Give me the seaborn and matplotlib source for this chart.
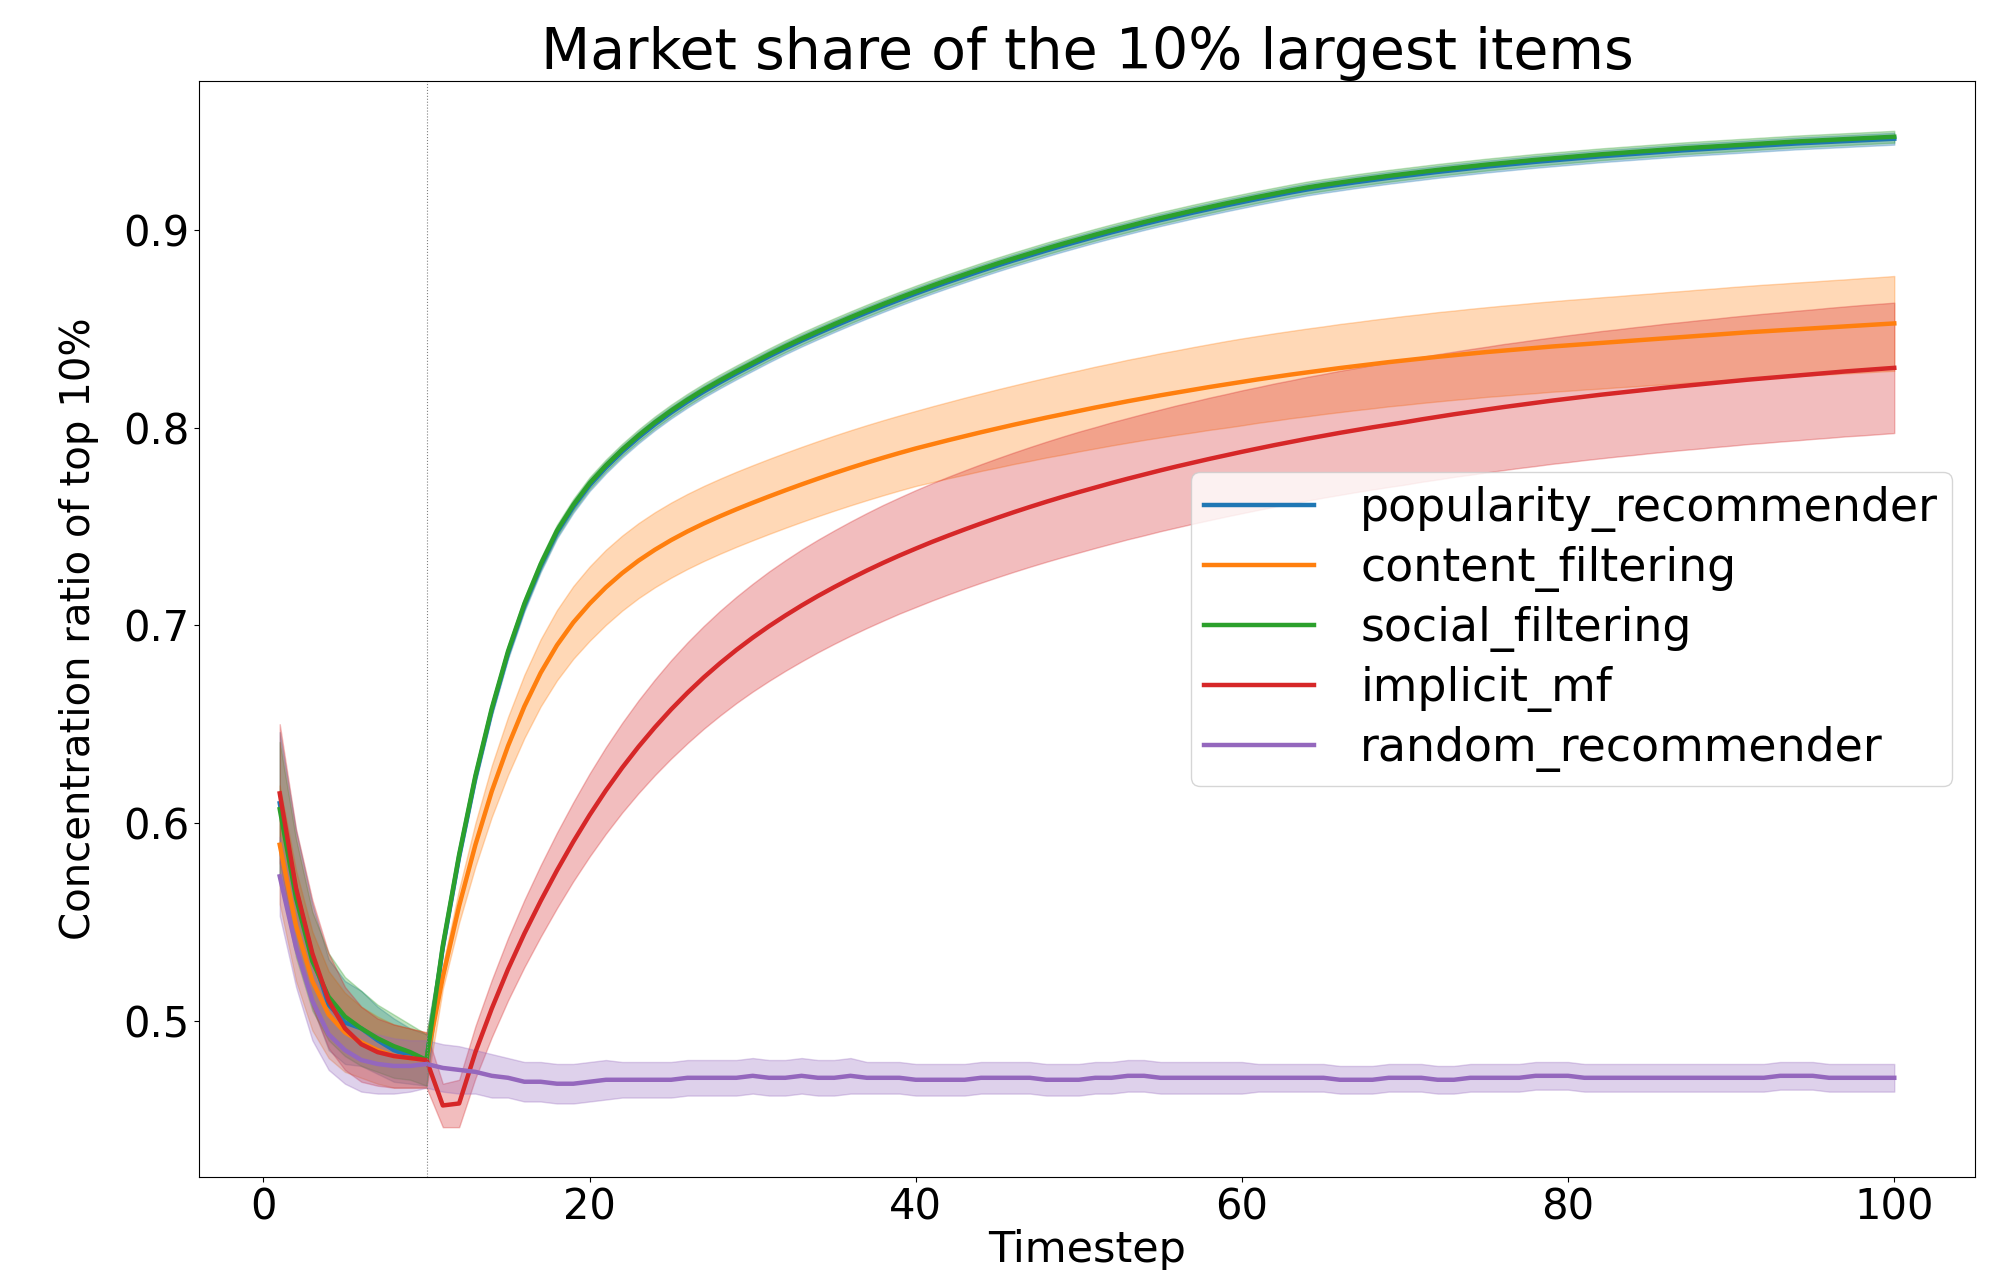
import pandas as pd
import matplotlib
matplotlib.use("Agg")
import matplotlib.pyplot as plt
import seaborn as sns

plt.rcParams["font.family"] = ["DejaVu Sans"]

timesteps = list(range(1, 101))

recommenders = [
    "popularity_recommender",
    "content_filtering",
    "social_filtering",
    "implicit_mf",
    "random_recommender",
]

# mean concentration ratio per timestep
popularity_mean = [
    0.610, 0.566, 0.533, 0.508, 0.499, 0.496, 0.490, 0.485, 0.482, 0.480,
    0.537, 0.583, 0.623, 0.657, 0.686, 0.710, 0.730, 0.747, 0.760, 0.771,
    0.7800, 0.7880, 0.7952, 0.8018, 0.8078, 0.8133, 0.8184, 0.8231, 0.8276, 0.8319,
    0.8362, 0.8403, 0.8442, 0.8479, 0.8515, 0.8550, 0.8584, 0.8617, 0.8649, 0.8680,
    0.8710, 0.8739, 0.8767, 0.8795, 0.8822, 0.8848, 0.8873, 0.8898, 0.8922, 0.8945,
    0.8968, 0.8990, 0.9011, 0.9032, 0.9052, 0.9071, 0.9090, 0.9108, 0.9126, 0.9143,
    0.9160, 0.9176, 0.9192, 0.9207, 0.9220, 0.9232, 0.9244, 0.9255, 0.9266, 0.9276,
    0.9286, 0.9296, 0.9305, 0.9314, 0.9323, 0.9331, 0.9339, 0.9347, 0.9354, 0.9361,
    0.9368, 0.9375, 0.9381, 0.9387, 0.9393, 0.9399, 0.9405, 0.9410, 0.9415, 0.9420,
    0.9425, 0.9430, 0.9435, 0.9440, 0.9444, 0.9448, 0.9452, 0.9456, 0.9460, 0.9464,
]
content_mean = [
    0.589, 0.548, 0.520, 0.503, 0.494, 0.489, 0.485, 0.482, 0.481, 0.480,
    0.522, 0.558, 0.589, 0.616, 0.639, 0.659, 0.676, 0.690, 0.7015, 0.7110,
    0.7193, 0.7265, 0.7328, 0.7383, 0.7432, 0.7476, 0.7516, 0.7553, 0.7588, 0.7621,
    0.7653, 0.7684, 0.7714, 0.7743, 0.7771, 0.7798, 0.7824, 0.7849, 0.7873, 0.7896,
    0.7917, 0.7938, 0.7958, 0.7978, 0.7997, 0.8016, 0.8034, 0.8052, 0.8069, 0.8086,
    0.8103, 0.8119, 0.8135, 0.8150, 0.8165, 0.8179, 0.8193, 0.8207, 0.8220, 0.8233,
    0.8246, 0.8258, 0.8270, 0.8281, 0.8292, 0.8303, 0.8313, 0.8323, 0.8333, 0.8342,
    0.8351, 0.8360, 0.8368, 0.8376, 0.8384, 0.8391, 0.8398, 0.8405, 0.8412, 0.8418,
    0.8424, 0.8430, 0.8436, 0.8442, 0.8448, 0.8454, 0.8460, 0.8466, 0.8472, 0.8478,
    0.8484, 0.8489, 0.8494, 0.8499, 0.8504, 0.8509, 0.8514, 0.8519, 0.8524, 0.8529,
]
social_mean = [
    0.607, 0.562, 0.530, 0.512, 0.502, 0.496, 0.491, 0.487, 0.484, 0.480,
    0.538, 0.584, 0.624, 0.658, 0.687, 0.711, 0.731, 0.748, 0.761, 0.772,
    0.7810, 0.7890, 0.7962, 0.8028, 0.8088, 0.8143, 0.8194, 0.8241, 0.8286, 0.8329,
    0.8372, 0.8413, 0.8452, 0.8489, 0.8525, 0.8560, 0.8594, 0.8627, 0.8659, 0.8690,
    0.8720, 0.8749, 0.8777, 0.8805, 0.8832, 0.8858, 0.8883, 0.8908, 0.8932, 0.8955,
    0.8978, 0.9000, 0.9021, 0.9042, 0.9062, 0.9081, 0.9100, 0.9118, 0.9136, 0.9153,
    0.9170, 0.9186, 0.9202, 0.9217, 0.9230, 0.9242, 0.9254, 0.9265, 0.9276, 0.9286,
    0.9296, 0.9306, 0.9315, 0.9324, 0.9333, 0.9341, 0.9349, 0.9357, 0.9364, 0.9371,
    0.9378, 0.9385, 0.9391, 0.9397, 0.9403, 0.9409, 0.9415, 0.9420, 0.9425, 0.9430,
    0.9435, 0.9440, 0.9445, 0.9450, 0.9454, 0.9458, 0.9462, 0.9466, 0.9470, 0.9474,
]
implicit_mean = [
    0.615, 0.567, 0.534, 0.510, 0.496, 0.488, 0.484, 0.482, 0.481, 0.480,
    0.457, 0.458, 0.484, 0.506, 0.526, 0.544, 0.5605, 0.5760, 0.5905, 0.6040,
    0.6165, 0.6280, 0.6386, 0.6484, 0.6575, 0.6659, 0.6737, 0.6809, 0.6876, 0.6938,
    0.6996, 0.7050, 0.7101, 0.7149, 0.7194, 0.7237, 0.7278, 0.7317, 0.7354, 0.7389,
    0.7423, 0.7455, 0.7486, 0.7516, 0.7545, 0.7573, 0.7600, 0.7626, 0.7651, 0.7675,
    0.7698, 0.7721, 0.7743, 0.7764, 0.7785, 0.7805, 0.7824, 0.7843, 0.7861, 0.7879,
    0.7896, 0.7913, 0.7929, 0.7945, 0.7960, 0.7975, 0.7989, 0.8003, 0.8016, 0.8029,
    0.8043, 0.8056, 0.8069, 0.8081, 0.8093, 0.8105, 0.8116, 0.8127, 0.8138, 0.8148,
    0.8158, 0.8168, 0.8177, 0.8186, 0.8195, 0.8204, 0.8212, 0.8220, 0.8228, 0.8236,
    0.8244, 0.8251, 0.8258, 0.8265, 0.8272, 0.8279, 0.8286, 0.8292, 0.8298, 0.8304,
]
random_mean = [
    0.573, 0.537, 0.510, 0.493, 0.485, 0.480, 0.478, 0.477, 0.477, 0.478,
    0.476, 0.475, 0.474, 0.472, 0.471, 0.469, 0.469, 0.468, 0.468, 0.469,
    0.470, 0.470, 0.470, 0.470, 0.470, 0.471, 0.471, 0.471, 0.471, 0.472,
    0.471, 0.471, 0.472, 0.471, 0.471, 0.472, 0.471, 0.471, 0.471, 0.470,
    0.470, 0.470, 0.470, 0.471, 0.471, 0.471, 0.471, 0.470, 0.470, 0.470,
    0.471, 0.471, 0.472, 0.472, 0.471, 0.471, 0.471, 0.471, 0.471, 0.471,
    0.471, 0.471, 0.471, 0.471, 0.471, 0.470, 0.470, 0.470, 0.471, 0.471,
    0.471, 0.470, 0.470, 0.471, 0.471, 0.471, 0.471, 0.472, 0.472, 0.472,
    0.471, 0.471, 0.471, 0.471, 0.471, 0.471, 0.471, 0.471, 0.471, 0.471,
    0.471, 0.471, 0.472, 0.472, 0.472, 0.471, 0.471, 0.471, 0.471, 0.471,
]

# half-width of the shaded interval around each mean
popularity_spread = [
    0.036, 0.030, 0.026, 0.023, 0.021, 0.019, 0.017, 0.016, 0.014, 0.013,
    0.003, 0.003, 0.003, 0.003, 0.003, 0.003, 0.003, 0.003, 0.003, 0.003,
    0.003, 0.003, 0.003, 0.003, 0.003, 0.003, 0.003, 0.003, 0.003, 0.003,
    0.003, 0.003, 0.003, 0.003, 0.003, 0.003, 0.003, 0.003, 0.003, 0.003,
    0.003, 0.003, 0.003, 0.003, 0.003, 0.003, 0.003, 0.003, 0.003, 0.003,
    0.003, 0.003, 0.003, 0.003, 0.003, 0.003, 0.003, 0.003, 0.003, 0.003,
    0.003, 0.003, 0.003, 0.003, 0.003, 0.003, 0.003, 0.003, 0.003, 0.003,
    0.003, 0.003, 0.003, 0.003, 0.003, 0.003, 0.003, 0.003, 0.003, 0.003,
    0.003, 0.003, 0.003, 0.003, 0.003, 0.003, 0.003, 0.003, 0.003, 0.003,
    0.003, 0.003, 0.003, 0.003, 0.003, 0.003, 0.003, 0.003, 0.003, 0.003,
]
content_spread = [
    0.030, 0.028, 0.025, 0.022, 0.020, 0.018, 0.017, 0.016, 0.015, 0.014,
    0.0060, 0.0085, 0.0110, 0.0130, 0.0147, 0.0160, 0.0170, 0.0178, 0.0184, 0.0188,
    0.0190, 0.0190, 0.0190, 0.0190, 0.0190, 0.0190, 0.0190, 0.0190, 0.0190, 0.0190,
    0.0190, 0.0190, 0.0190, 0.0190, 0.0190, 0.0190, 0.0190, 0.0190, 0.0190, 0.0190,
    0.0192, 0.0193, 0.0195, 0.0196, 0.0198, 0.0199, 0.0201, 0.0202, 0.0204, 0.0205,
    0.0207, 0.0208, 0.0210, 0.0211, 0.0213, 0.0214, 0.0216, 0.0217, 0.0219, 0.0220,
    0.0220, 0.0221, 0.0221, 0.0222, 0.0222, 0.0223, 0.0223, 0.0224, 0.0224, 0.0225,
    0.0225, 0.0226, 0.0226, 0.0227, 0.0227, 0.0228, 0.0228, 0.0229, 0.0229, 0.0230,
    0.0230, 0.0231, 0.0231, 0.0232, 0.0232, 0.0233, 0.0233, 0.0234, 0.0234, 0.0235,
    0.0235, 0.0236, 0.0236, 0.0237, 0.0237, 0.0238, 0.0238, 0.0239, 0.0239, 0.0240,
]
social_spread = [
    0.034, 0.030, 0.025, 0.022, 0.020, 0.019, 0.017, 0.016, 0.014, 0.013,
    0.003, 0.003, 0.003, 0.003, 0.003, 0.003, 0.003, 0.003, 0.003, 0.003,
    0.003, 0.003, 0.003, 0.003, 0.003, 0.003, 0.003, 0.003, 0.003, 0.003,
    0.003, 0.003, 0.003, 0.003, 0.003, 0.003, 0.003, 0.003, 0.003, 0.003,
    0.003, 0.003, 0.003, 0.003, 0.003, 0.003, 0.003, 0.003, 0.003, 0.003,
    0.003, 0.003, 0.003, 0.003, 0.003, 0.003, 0.003, 0.003, 0.003, 0.003,
    0.003, 0.003, 0.003, 0.003, 0.003, 0.003, 0.003, 0.003, 0.003, 0.003,
    0.003, 0.003, 0.003, 0.003, 0.003, 0.003, 0.003, 0.003, 0.003, 0.003,
    0.003, 0.003, 0.003, 0.003, 0.003, 0.003, 0.003, 0.003, 0.003, 0.003,
    0.003, 0.003, 0.003, 0.003, 0.003, 0.003, 0.003, 0.003, 0.003, 0.003,
]
implicit_spread = [
    0.035, 0.030, 0.027, 0.024, 0.021, 0.019, 0.017, 0.016, 0.015, 0.014,
    0.0110, 0.0120, 0.0132, 0.0145, 0.0158, 0.0170, 0.0181, 0.0191, 0.0200, 0.0210,
    0.0219, 0.0227, 0.0235, 0.0242, 0.0249, 0.0255, 0.0260, 0.0265, 0.0269, 0.0273,
    0.0277, 0.0280, 0.0283, 0.0285, 0.0287, 0.0289, 0.0291, 0.0293, 0.0294, 0.0296,
    0.0297, 0.0298, 0.0299, 0.0300, 0.0301, 0.0302, 0.0303, 0.0304, 0.0305, 0.0306,
    0.0306, 0.0307, 0.0307, 0.0308, 0.0308, 0.0309, 0.0309, 0.0310, 0.0310, 0.0311,
    0.0311, 0.0312, 0.0312, 0.0313, 0.0313, 0.0314, 0.0314, 0.0315, 0.0315, 0.0316,
    0.0316, 0.0317, 0.0317, 0.0318, 0.0318, 0.0319, 0.0319, 0.0320, 0.0320, 0.0321,
    0.0321, 0.0322, 0.0322, 0.0323, 0.0323, 0.0324, 0.0324, 0.0325, 0.0325, 0.0326,
    0.0326, 0.0327, 0.0327, 0.0328, 0.0328, 0.0329, 0.0329, 0.0330, 0.0330, 0.0330,
]
random_spread = [
    0.020, 0.020, 0.020, 0.018, 0.017, 0.016, 0.015, 0.014, 0.013, 0.012,
    0.012, 0.012, 0.011, 0.011, 0.010, 0.010, 0.010, 0.010, 0.010, 0.010,
    0.010, 0.009, 0.009, 0.009, 0.009, 0.009, 0.009, 0.009, 0.009, 0.009,
    0.009, 0.009, 0.009, 0.009, 0.009, 0.009, 0.008, 0.008, 0.008, 0.008,
    0.008, 0.008, 0.008, 0.008, 0.008, 0.008, 0.008, 0.008, 0.008, 0.008,
    0.008, 0.008, 0.008, 0.008, 0.008, 0.008, 0.008, 0.008, 0.008, 0.008,
    0.007, 0.007, 0.007, 0.007, 0.007, 0.007, 0.007, 0.007, 0.007, 0.007,
    0.007, 0.007, 0.007, 0.007, 0.007, 0.007, 0.007, 0.007, 0.007, 0.007,
    0.007, 0.007, 0.007, 0.007, 0.007, 0.007, 0.007, 0.007, 0.007, 0.007,
    0.007, 0.007, 0.007, 0.007, 0.007, 0.007, 0.007, 0.007, 0.007, 0.007,
]

means = [popularity_mean, content_mean, social_mean, implicit_mean, random_mean]
spreads = [popularity_spread, content_spread, social_spread, implicit_spread, random_spread]

# Long-form table: the lower and upper edge of each interval as two rows,
# so the mean of the pair is the line and their full range is the band.
rows = []
for name, m, s in zip(recommenders, means, spreads):
    for t, mv, sv in zip(timesteps, m, s):
        rows.append((name, t, mv - sv))
        rows.append((name, t, mv + sv))
df = pd.DataFrame(rows, columns=["recommender", "Timestep", "ratio"])

fig = plt.figure(figsize=(20.06, 12.70), dpi=100)
ax = fig.add_axes([199 / 2006, 1 - 1177 / 1270, (1975 - 199) / 2006, (1177 - 81) / 1270])

sns.lineplot(
    data=df, x="Timestep", y="ratio", hue="recommender",
    hue_order=recommenders, palette="tab10",
    estimator="mean", errorbar=("pi", 100),
    linewidth=3.2, err_kws={"alpha": 0.3}, ax=ax,
)

# start of the training phase
ax.axvline(10, color="gray", linestyle=":", linewidth=0.8)

ax.set_title("Market share of the 10% largest items", fontsize=41, pad=8)
ax.set_xlabel("Timestep", fontsize=31, labelpad=0)
ax.set_ylabel("Concentration ratio of top 10%", fontsize=29, labelpad=17)
ax.tick_params(axis="both", labelsize=30)
ax.set_xticks([0, 20, 40, 60, 80, 100])
ax.set_yticks([0.5, 0.6, 0.7, 0.8, 0.9])

sns.move_legend(
    ax, "center right", title=None, fontsize=33, frameon=True,
    handlelength=2.4, handletextpad=1.0, labelspacing=0.31,
    borderpad=0.3, borderaxespad=0.5,
)

fig.savefig("out.png", dpi=100)
